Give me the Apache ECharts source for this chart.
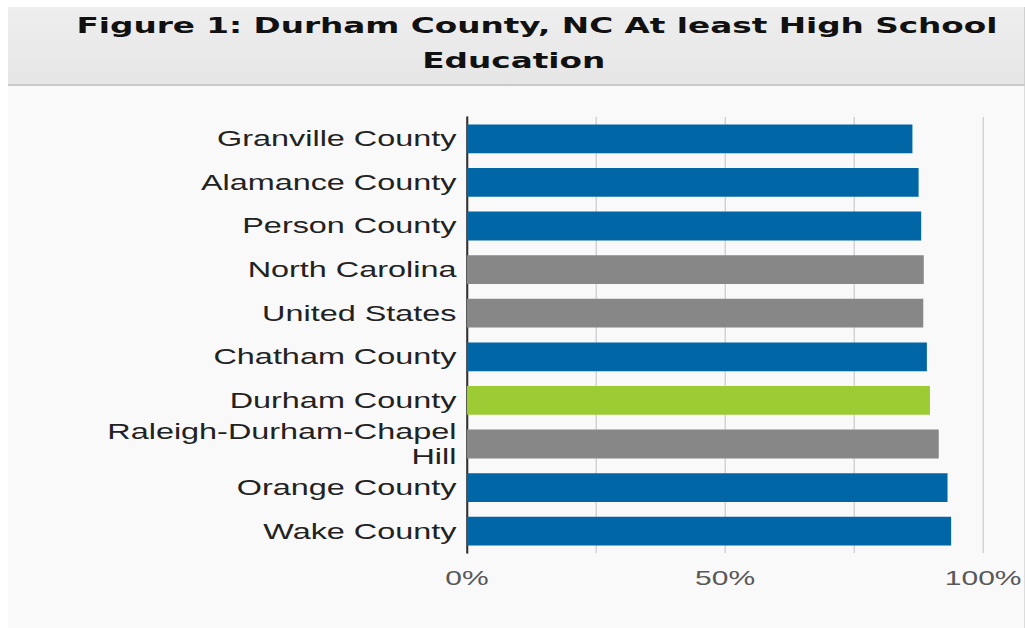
<!DOCTYPE html>
<html>
<head>
<meta charset="utf-8">
<script src="https://cdn.jsdelivr.net/npm/echarts@6/dist/echarts.min.js"></script>
<style>
  html, body { margin: 0; padding: 0; background: #ffffff; width: 1025px; height: 628px; overflow: hidden; }
  #panel { position: absolute; left: 8px; top: 7px; width: 1016px; height: 621px; background: #f9f9f9; border-right: 1px solid #dcdcdc; }
  #header { position: absolute; left: 8px; top: 7px; width: 1016px; height: 77px; background: linear-gradient(#eeeeee, #e6e6e6); border-bottom: 2px solid #c9c9c9; border-right: 1px solid #d0d0d0; }
  #wrap { position: absolute; left: 0; top: 0; width: 684px; height: 628px; transform: scaleX(1.5); transform-origin: 0 0; }
  #chart { width: 684px; height: 628px; }
</style>
</head>
<body>
<div id="panel"></div>
<div id="header"></div>
<div id="wrap"><div id="chart"></div></div>
<script>
// ---- data ----
const categories = [
  'Granville County',
  'Alamance County',
  'Person County',
  'North Carolina',
  'United States',
  'Chatham County',
  'Durham County',
  'Raleigh-Durham-Chapel\nHill',
  'Orange County',
  'Wake County'
];
const values = [86.3, 87.5, 88.0, 88.5, 88.4, 89.1, 89.7, 91.4, 93.1, 93.8];
const groups = ['county', 'county', 'county', 'ref', 'ref', 'county', 'focus', 'ref', 'county', 'county'];
const xTicks = [0, 50, 100];
const titleLine1 = 'Figure 1: Durham County, NC At least High School';
const titleLine2 = 'Education';

const groupColors = { county: '#0066a6', ref: '#878787', focus: '#9ccb33' };

const chart = echarts.init(document.getElementById('chart'), null, { renderer: 'svg', width: 684, height: 628 });

chart.setOption({
  backgroundColor: 'transparent',
  animation: false,
  title: [
    {
      text: titleLine1,
      left: 353, top: 10, textAlign: 'center',
      textStyle: { fontFamily: 'DejaVu Sans', fontWeight: 'bold', fontSize: 21.8, color: '#111111' }
    },
    {
      text: titleLine2,
      left: 337.5, top: 45, textAlign: 'center',
      textStyle: { fontFamily: 'DejaVu Sans', fontWeight: 'bold', fontSize: 21.8, color: '#111111' }
    }
  ],
  grid: { left: 311.3, width: 345.6, top: 117, bottom: 75, containLabel: false },
  xAxis: {
    type: 'value',
    min: 0, max: 100, interval: 25,
    axisLine: { show: false },
    axisTick: { show: false },
    splitLine: { show: true, lineStyle: { color: '#d3d3d3', width: 1 } },
    axisLabel: {
      margin: 15,
      fontFamily: 'Liberation Sans', fontSize: 20, color: '#585858',
      formatter: function (v) { return xTicks.indexOf(v) >= 0 ? v + '%' : ''; }
    }
  },
  yAxis: {
    type: 'category',
    inverse: true,
    data: categories,
    axisLine: { show: true, lineStyle: { color: '#333333', width: 1.4 } },
    axisTick: { show: false },
    axisLabel: {
      margin: 7,
      fontFamily: 'Liberation Sans', fontSize: 21.6, color: '#222222',
      lineHeight: 25, align: 'right'
    }
  },
  series: [{
    type: 'bar',
    barCategoryGap: '34%',
    data: values.map(function (v, i) {
      return { value: v, itemStyle: { color: groupColors[groups[i]] } };
    })
  }]
});
</script>
</body>
</html>
